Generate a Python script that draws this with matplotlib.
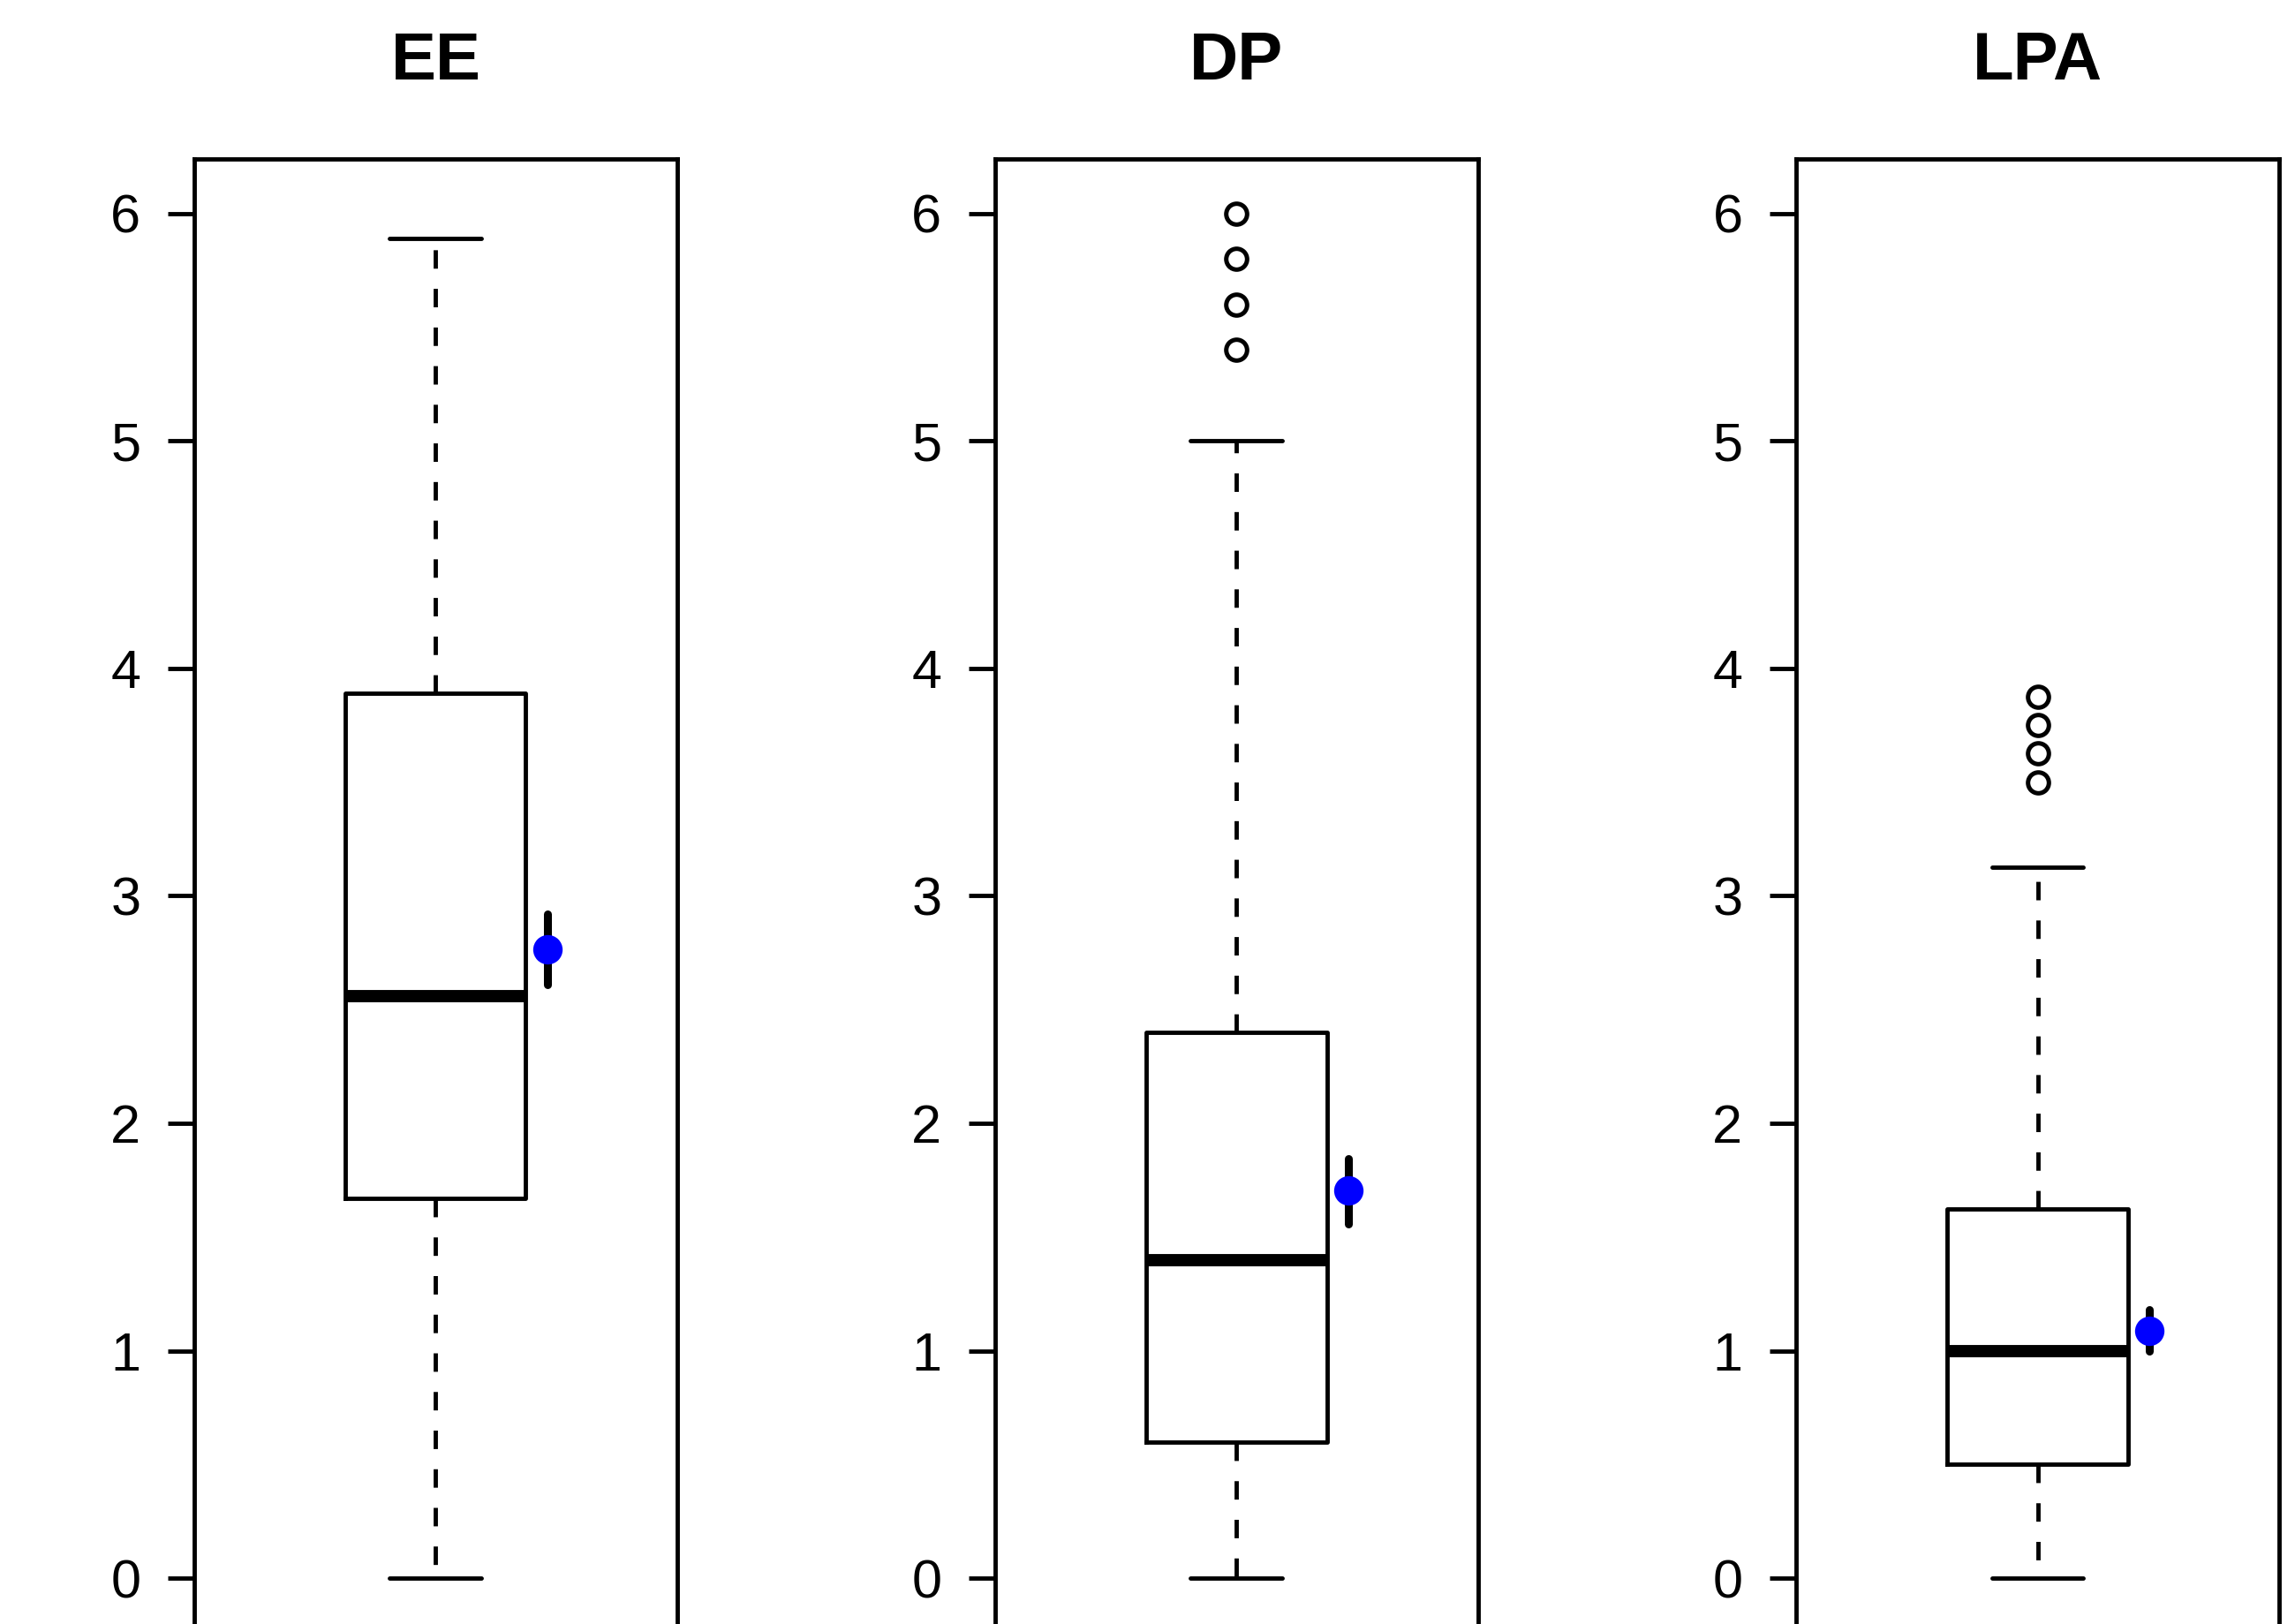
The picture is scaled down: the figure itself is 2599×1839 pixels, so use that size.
import matplotlib
matplotlib.use("Agg")
import matplotlib.pyplot as plt

# Burnout subscales: box summaries
scales = ["EE", "DP", "LPA"]
whisker_low = [0.0, 0.0, 0.0]
q1 = [1.67, 0.60, 0.50]
median = [2.56, 1.40, 1.00]
q3 = [3.89, 2.40, 1.625]
whisker_high = [5.89, 5.00, 3.125]
outliers = [
    [],
    [5.4, 5.6, 5.8, 6.0],
    [3.5, 3.625, 3.75, 3.875],
]
# mean with confidence interval (blue dot)
mean = [2.765, 1.705, 1.087]
ci_low = [2.61, 1.557, 0.998]
ci_high = [2.92, 1.845, 1.181]

y_ticks = [0, 1, 2, 3, 4, 5, 6]

plt.rcParams["font.family"] = ["Liberation Sans", "DejaVu Sans"]

DPI = 100
fig = plt.figure(figsize=(2599 / DPI, 1839 / DPI), dpi=DPI)

lefts = [0.0846, 0.4336, 0.7826]
width = 0.2105
bottom = -0.0054
height = 0.9076

lw = 3.5  # ~5 px

for i, name in enumerate(scales):
    ax = fig.add_axes([lefts[i], bottom, width, height])
    stats = [{
        "whislo": whisker_low[i],
        "q1": q1[i],
        "med": median[i],
        "q3": q3[i],
        "whishi": whisker_high[i],
        "fliers": outliers[i],
    }]
    ax.bxp(
        stats,
        positions=[1],
        widths=0.373,
        capwidths=0.19,
        showfliers=True,
        boxprops=dict(color="black", linewidth=lw),
        whiskerprops=dict(color="black", linewidth=lw, linestyle=(0, (4.3, 4.7))),
        capprops=dict(color="black", linewidth=lw, solid_capstyle="round"),
        medianprops=dict(color="black", linewidth=10, solid_capstyle="butt"),
        flierprops=dict(marker="o", markerfacecolor="white",
                        markeredgecolor="black", markersize=17,
                        markeredgewidth=3.6),
    )
    ax.plot([1.232, 1.232], [ci_low[i], ci_high[i]], color="black",
            linewidth=6.5, solid_capstyle="round", zorder=3)
    ax.plot(1.232, mean[i], marker="o", color="#0000ff", markersize=24,
            markeredgewidth=0, zorder=4)

    ax.set_xlim(0.5, 1.5)
    ax.set_ylim(-0.24, 6.24)
    ax.set_xticks([])
    ax.set_yticks(y_ticks)
    ax.set_yticklabels([str(t) for t in y_ticks])
    ax.tick_params(axis="y", length=21.6, width=lw, pad=22, labelsize=44)
    for sp in ax.spines.values():
        sp.set_linewidth(lw)
    ax.set_title(name, fontsize=55, fontweight="bold", pad=65)

fig.savefig("out.png", dpi=DPI)
